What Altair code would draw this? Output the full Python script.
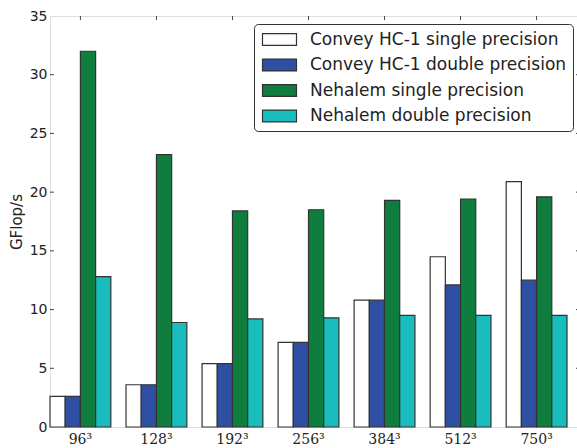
import altair as alt
import pandas as pd

sizes = ["96³", "128³", "192³", "256³", "384³", "512³", "750³"]
series = [
    "Convey HC-1 single precision",
    "Convey HC-1 double precision",
    "Nehalem single precision",
    "Nehalem double precision",
]
convey_sp = [2.6, 3.6, 5.4, 7.2, 10.8, 14.5, 20.9]
convey_dp = [2.6, 3.6, 5.4, 7.2, 10.8, 12.1, 12.5]
nehalem_sp = [32.0, 23.2, 18.4, 18.5, 19.3, 19.4, 19.6]
nehalem_dp = [12.8, 8.9, 9.2, 9.3, 9.5, 9.5, 9.5]
y_ticks = [0, 5, 10, 15, 20, 25, 30, 35]
colors = ["#ffffff", "#2f4fa3", "#0f7d3d", "#19bdbd"]

rows = []
for s, vals in zip(series, [convey_sp, convey_dp, nehalem_sp, nehalem_dp]):
    for size, v in zip(sizes, vals):
        rows.append({"size": size, "series": s, "gflops": v})
df = pd.DataFrame(rows)

x_scale = alt.Scale(domain=sizes, range=[0, 517], paddingInner=0.2, paddingOuter=0)
y_scale = alt.Scale(domain=[0, 35], nice=False)
y_title = "GFlop/s"

bars = alt.Chart(df).mark_bar(stroke="#333333", strokeWidth=1.2, opacity=1).encode(
    x=alt.X("size:N", sort=sizes, scale=x_scale,
            axis=alt.Axis(title=None, labelAngle=0, labelFont="DejaVu Serif",
                          labelFontSize=14, labelColor="#222222", ticks=False,
                          labelPadding=5, domain=False)),
    xOffset=alt.XOffset("series:N", sort=series,
                        scale=alt.Scale(domain=series, paddingInner=0, paddingOuter=0)),
    y=alt.Y("gflops:Q", scale=y_scale, title=y_title,
            axis=alt.Axis(values=y_ticks, labelFont="DejaVu Sans", labelFontSize=14,
                          labelColor="#222222", ticks=False, domain=False, grid=False,
                          labelPadding=3, titleFont="DejaVu Sans", titleFontSize=15,
                          titleFontWeight="normal", titleColor="#222222", titlePadding=5)),
    color=alt.Color("series:N", sort=series,
                    scale=alt.Scale(domain=series, range=colors),
                    legend=alt.Legend(title=None, orient="none", legendX=204, legendY=8,
                                      symbolType="M-2,-0.7H2V0.7H-2Z", symbolSize=289,
                                      symbolStrokeColor="#333333", symbolStrokeWidth=1.2,
                                      symbolOpacity=1,
                                      symbolOffset=10, labelOffset=21, labelFontSize=17,
                                      labelFont="DejaVu Sans", labelColor="#222222",
                                      padding=6, rowPadding=7.5, strokeColor="#333333",
                                      fillColor="white", cornerRadius=4, labelLimit=400)),
)

top_ticks = alt.Chart(pd.DataFrame({"size": sizes})).mark_rule(color="#444444", strokeWidth=1).encode(
    x=alt.X("size:N", sort=sizes, scale=x_scale),
    y=alt.value(0),
    y2=alt.value(4),
)

tick_df = pd.DataFrame({"gflops": y_ticks[1:-1]})
left_ticks = alt.Chart(tick_df).mark_rule(color="#444444", strokeWidth=1).encode(
    y=alt.Y("gflops:Q", scale=y_scale, title=y_title),
    x=alt.value(0),
    x2=alt.value(4),
)
right_ticks = alt.Chart(tick_df).mark_rule(color="#444444", strokeWidth=1).encode(
    y=alt.Y("gflops:Q", scale=y_scale, title=y_title),
    x=alt.value(526),
    x2=alt.value(531),
)

chart = alt.layer(bars, top_ticks, left_ticks, right_ticks).properties(
    width=527,
    height=411,
    autosize=alt.AutoSizeParams(type="none"),
    padding={"left": 50, "top": 16, "right": 0, "bottom": 21},
).configure_view(stroke="#333333", strokeWidth=1.2).configure(background="white")

chart.save("out.html", embed_options={"renderer": "svg", "actions": False})
